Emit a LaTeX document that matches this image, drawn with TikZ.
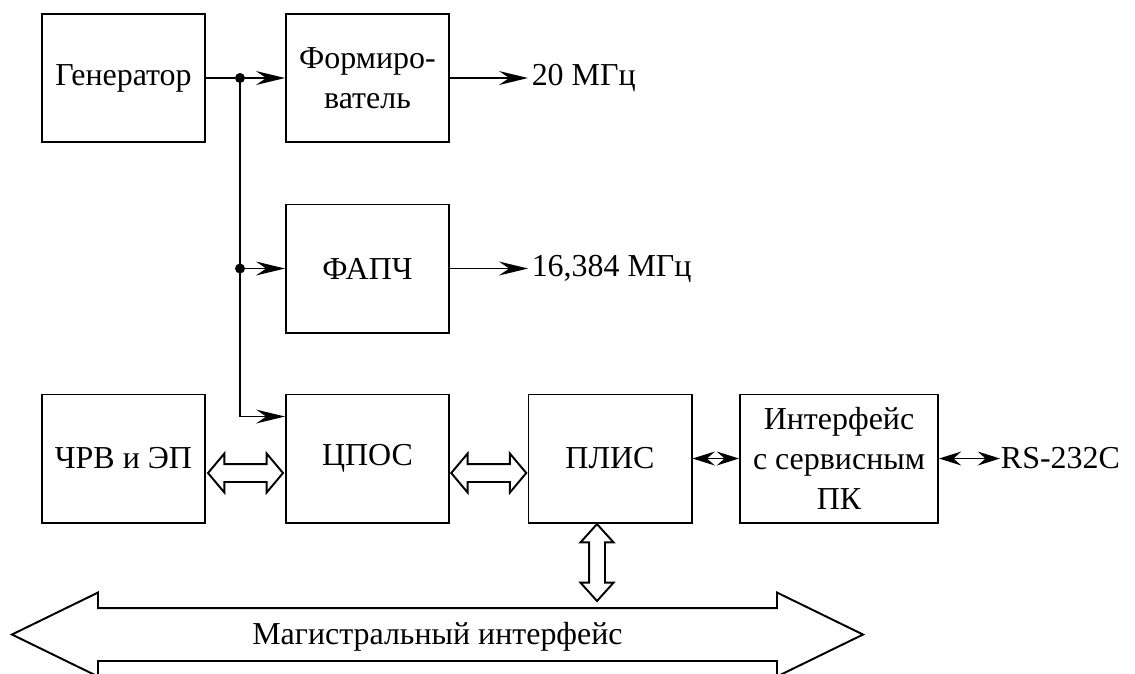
\documentclass[tikz,border=0pt]{standalone}
\usepackage{fontspec}
\setmainfont{Liberation Serif}
\usepackage{tikz}
\usetikzlibrary{shapes.arrows,arrows.meta,calc}

\begin{document}
\begin{tikzpicture}[x=0.36pt, y=-0.36pt, line width=0.7pt,
    every node/.style={font=\fontsize{11.5}{14.4}\selectfont},
    block/.style={rectangle, draw, minimum width=58.7pt, minimum height=46.1pt, align=center, inner sep=0pt},
    wire/.style={-{Stealth[length=10.4pt, width=5pt, inset=3.6pt]}},
    wires/.style={{Stealth[length=8pt, width=5pt, inset=2.8pt]}-{Stealth[length=8pt, width=5pt, inset=2.8pt]}},
    wide/.style={double arrow, draw, inner xsep=0pt, inner ysep=2.88pt, double arrow head extend=3.78pt,
        double arrow tip angle=100, minimum height=27pt},
    dot/.style={circle, fill, inner sep=0pt, minimum size=3.6pt}]
    \useasboundingbox (0,0) rectangle (1135,673);
    \clip (0,0) rectangle (1135,673);

    % Blocks
    \node[block] (gen) at (123.5,78) {Генератор};
    \node[block] (form) at (367.5,78) {Формиро-\\ватель};
    \node[block] (fapch) at (367.5,268.5) {ФАПЧ};
    \node[block] (chrv) at (123.5,458.5) {ЧРВ и ЭП};
    \node[block] (cpos) at (367.5,458.5) {ЦПОС};
    \node[block] (plis) at (610,458.5) {ПЛИС};
    \node[block, minimum width=71.3pt] (intf) at (839,458.5) {Интерфейс\\с сервисным\\ПК};

    % Outputs
    \node[anchor=west, inner sep=1pt] (f20) at (528,78) {20 МГц};
    \node[anchor=west, inner sep=1pt] (f16) at (528,268.5) {16,384 МГц};
    \node[anchor=west, inner sep=0pt] (rs) at (1000,458.5) {RS-232C};

    % Clock distribution
    \coordinate (j1) at ($(gen.east)+(34,0)$);
    \coordinate (j2) at (j1 |- fapch.west);
    \coordinate (cin) at ($(cpos.north west)+(0,23)$);
    \draw[wire] (gen.east) -- (form.west);
    \draw[wire] (form.east) -- (f20.west);
    \draw[wire] (j2) -- (fapch.west);
    \draw[wire] (fapch.east) -- (f16.west);
    \draw[wire] (j1) |- (cin);
    \node[dot] (d1) at (j1) {};
    \node[dot] (d2) at (j2) {};

    % Data links
    \draw[wires] (plis.east) -- (intf.west);
    \draw[wires] (intf.east) -- (rs.west);
    \node[wide] (w1) at ($(chrv.east)!0.5!(cpos.west)+(0,14.5)$) {};
    \node[wide] (w2) at ($(cpos.east)!0.5!(plis.west)+(0,14.5)$) {};
    \node[wide, rotate=90, inner ysep=2.52pt, double arrow head extend=3.06pt,
        double arrow tip angle=84, minimum height=27.7pt] (w3) at ($(plis.south)+(-13,39)$) {};

    % Bus
    \node[double arrow, draw, inner xsep=0pt, inner ysep=9.18pt, double arrow head extend=5.58pt,
        double arrow tip angle=52, minimum height=306.4pt] (bus) at (437.5,634.5) {};
    \node (bustext) at ($(bus.center)+(0,2)$) {Магистральный интерфейс};
\end{tikzpicture}
\end{document}
